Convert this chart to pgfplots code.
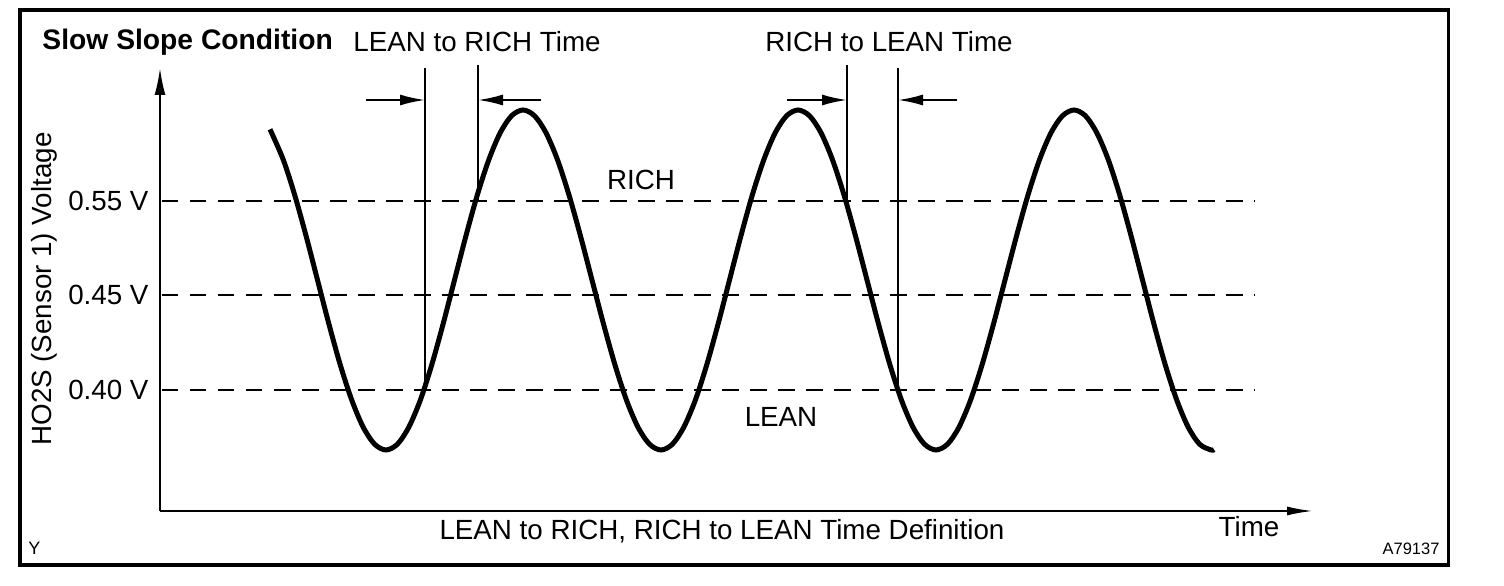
\documentclass[border=0pt]{standalone}
\usepackage{fontspec}
\setmainfont{Liberation Sans}
\usepackage{pgfplots}
\pgfplotsset{compat=1.18}
\usetikzlibrary{arrows.meta}
\begin{document}
\fontsize{11.1}{13}\selectfont
\begin{tikzpicture}
\begin{axis}[
 scale only axis, width=461.2pt, height=177.2pt,
 xmin=160, xmax=1313, ymin=0, ymax=443,
 axis lines=left,
 axis line style={line width=0.8pt},
 x axis line style={-{Latex[length=10.4pt,width=3.6pt]}},
 y axis line style={-{Latex[length=10.8pt,width=4.4pt]}},
 xtick=\empty,
 ytick={310,216,121},
 yticklabels={0.55 V,0.45 V,0.40 V},
 major tick length=0pt,
 yticklabel style={inner sep=0pt, xshift=-4.4pt},
 clip=false,
]
\path (0,511) rectangle (1504,-75);
\draw[line width=1.4pt] (20,501) rectangle (1448.5,-54);

% dashed reference lines
\addplot[black, line width=0.8pt, dash pattern=on 6.6pt off 4.6pt] coordinates {(162,310) (1255,310)};
\addplot[black, line width=0.8pt, dash pattern=on 6.6pt off 4.6pt] coordinates {(162,216) (1255,216)};
\addplot[black, line width=0.8pt, dash pattern=on 6.6pt off 4.6pt] coordinates {(162,121) (1255,121)};

% vertical markers
\addplot[black, line width=0.6pt] coordinates {(425,443) (425,121)};
\addplot[black, line width=0.6pt] coordinates {(478,446) (478,310)};
\addplot[black, line width=0.6pt] coordinates {(847,446) (847,310)};
\addplot[black, line width=0.6pt] coordinates {(898,443) (898,121)};

% arrows
\addplot[black, line width=0.8pt, -{Latex[length=10pt,width=4.4pt]}] coordinates {(366,411) (425,411)};
\addplot[black, line width=0.8pt, -{Latex[length=10pt,width=4.4pt]}] coordinates {(541,411) (478,411)};
\addplot[black, line width=0.8pt, -{Latex[length=10pt,width=4.4pt]}] coordinates {(787,411) (847,411)};
\addplot[black, line width=0.8pt, -{Latex[length=10pt,width=4.4pt]}] coordinates {(957,411) (898,411)};

% sensor voltage wave
\addplot[black, line width=2pt, smooth] coordinates {
(270,381.7) (283.3,351.2) (294.7,316) (306.1,275.0) (317.5,231) (328.9,187.0) (340.3,146) (351.8,110.8) (363.2,83.8) (374.6,66.8) (386,61)
(397.4,66.8) (408.8,83.8) (420.3,110.8) (431.7,146) (443.1,187.0) (454.5,231) (465.9,275.0) (477.3,316) (488.8,351.2) (500.2,378.2) (511.6,395.2) (523,401)
(534.5,395.2) (546,378.2) (557.5,351.2) (569,316) (580.5,275.0) (592,231) (603.5,187.0) (615,146) (626.5,110.8) (638,83.8) (649.5,66.8) (661,61)
(672.4,66.8) (683.8,83.8) (695.3,110.8) (706.7,146) (718.1,187.0) (729.5,231) (740.9,275.0) (752.3,316) (763.8,351.2) (775.2,378.2) (786.6,395.2) (798,401)
(809.5,395.2) (821,378.2) (832.5,351.2) (844,316) (855.5,275.0) (867,231) (878.5,187.0) (890,146) (901.5,110.8) (913,83.8) (924.5,66.8) (936,61)
(947.5,66.8) (959,83.8) (970.5,110.8) (982,146) (993.5,187.0) (1005,231) (1016.5,275.0) (1028,316) (1039.5,351.2) (1051,378.2) (1062.5,395.2) (1074,401)
(1085.4,395.2) (1096.8,378.2) (1108.3,351.2) (1119.7,316) (1131.1,275.0) (1142.5,231) (1153.9,187.0) (1165.3,146) (1176.8,110.8) (1188.2,83.8) (1199.6,66.8) (1211,61) (1214,61.4)
};

% texts
\node[anchor=base west, inner sep=0pt, font=\fontsize{11.3}{13}\selectfont\bfseries] at (42,461) {Slow Slope Condition};
\node[anchor=base, inner sep=0pt] at (477,459) {LEAN to RICH Time};
\node[anchor=base, inner sep=0pt] at (889,459) {RICH to LEAN Time};
\node[anchor=base, inner sep=0pt] at (641,321) {RICH};
\node[anchor=base, inner sep=0pt] at (781,84) {LEAN};
\node[anchor=base, inner sep=0pt] at (722,-29) {LEAN to RICH, RICH to LEAN Time Definition};
\node[anchor=base, inner sep=0pt] at (1249,-26) {Time};
\node[anchor=base west, inner sep=0pt, font=\fontsize{7.2}{8}\selectfont] at (28,-44) {Y};
\node[anchor=base east, inner sep=0pt, font=\fontsize{6.6}{8}\selectfont] at (1440,-44) {A79137};
\node[rotate=90, anchor=base, inner sep=0pt] at (52,222) {HO2S (Sensor 1) Voltage};
\end{axis}
\end{tikzpicture}
\end{document}
